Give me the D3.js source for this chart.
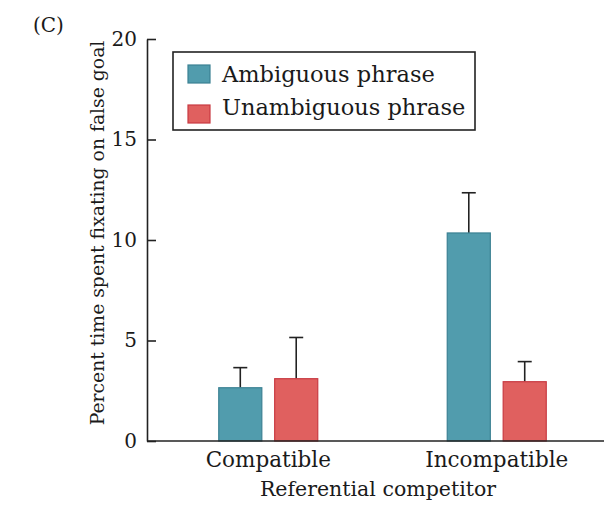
<!DOCTYPE html>
<html>
<head>
<meta charset="utf-8">
<script src="https://cdn.jsdelivr.net/npm/d3@7"></script>
<style>
  body { margin: 0; background: #fff; }
  text { font-family: "DejaVu Serif", serif; fill: #1a1a1a; }
</style>
</head>
<body>
<svg id="chart" width="604" height="505"></svg>
<script>
var categories = ['Compatible', 'Incompatible']
var seriesNames = ['Ambiguous phrase', 'Unambiguous phrase']
var ambiguous = [2.65, 10.35]
var unambiguous = [3.1, 2.95]
var ambiguousErr = [1.0, 2.0]
var unambiguousErr = [2.05, 1.0]
var yTicks = [0, 5, 10, 15, 20]

var fills = ['#519cad', '#e0605f']
var strokes = ['#3b8193', '#c83a42']

;(function (d3) {
  var svg = d3.select('#chart')
  var left = 147
  var bottom = 441
  var plotTop = 39

  var y = d3.scaleLinear().domain([0, 20]).range([bottom, plotTop])
  var x0 = d3.scaleBand().domain(categories).range([154, 611]).padding(0)
  var x1 = d3.scaleBand().domain(seriesNames).range([-49.5, 49.5]).paddingInner(0.23)

  var rows = []
  categories.forEach(function (c, i) {
    rows.push({ cat: c, s: 0, v: ambiguous[i], e: ambiguousErr[i] })
    rows.push({ cat: c, s: 1, v: unambiguous[i], e: unambiguousErr[i] })
  })

  function barX (d) {
    return x0(d.cat) + x0.bandwidth() / 2 + x1(seriesNames[d.s])
  }

  // error bars (drawn under bars)
  var eb = svg.append('g').attr('stroke', '#222').attr('stroke-width', 1.6)
  rows.forEach(function (d) {
    var cx = barX(d) + x1.bandwidth() / 2
    eb.append('line').attr('x1', cx).attr('x2', cx).attr('y1', y(d.v)).attr('y2', y(d.v + d.e))
    eb.append('line').attr('x1', cx - 7).attr('x2', cx + 7).attr('y1', y(d.v + d.e)).attr('y2', y(d.v + d.e))
  })

  svg.append('g').selectAll('rect').data(rows).join('rect')
    .attr('x', barX)
    .attr('y', function (d) { return y(d.v) })
    .attr('width', x1.bandwidth())
    .attr('height', function (d) { return y(0) - y(d.v) })
    .attr('fill', function (d) { return fills[d.s] })
    .attr('stroke', function (d) { return strokes[d.s] })
    .attr('stroke-width', 1.2)

  // y axis, ticks pointing inward
  var yAxis = svg.append('g').attr('transform', 'translate(' + left + ',0)')
    .call(d3.axisLeft(y).tickValues(yTicks).tickSize(-9).tickSizeOuter(0).tickPadding(10))
  yAxis.select('.domain').attr('stroke', '#222').attr('stroke-width', 1.6)
  yAxis.selectAll('.tick line').attr('stroke', '#222').attr('stroke-width', 1.6)
  yAxis.selectAll('.tick text').attr('font-size', 20).attr('font-family', '"DejaVu Serif", serif').attr('fill', '#1a1a1a')

  // x axis line
  svg.append('line').attr('x1', left).attr('x2', 604).attr('y1', bottom).attr('y2', bottom)
    .attr('stroke', '#222').attr('stroke-width', 1.6)

  svg.append('g').selectAll('text').data(categories).join('text')
    .attr('x', function (c) { return x0(c) + x0.bandwidth() / 2 })
    .attr('y', 467)
    .attr('text-anchor', 'middle')
    .attr('font-size', 21.5)
    .text(function (c) { return c })

  svg.append('text').attr('x', 378).attr('y', 496).attr('text-anchor', 'middle')
    .attr('font-size', 20.5).text('Referential competitor')

  svg.append('text').attr('transform', 'translate(104,233) rotate(-90)')
    .attr('text-anchor', 'middle').attr('font-size', 18.8)
    .text('Percent time spent fixating on false goal')

  svg.append('text').attr('x', 33).attr('y', 32).attr('font-size', 20).text('(C)')

  // legend
  var lg = svg.append('g')
  lg.append('rect').attr('x', 173).attr('y', 52).attr('width', 302).attr('height', 78)
    .attr('fill', '#fff').attr('stroke', '#222').attr('stroke-width', 1.6)
  seriesNames.forEach(function (n, i) {
    lg.append('rect').attr('x', 188).attr('y', 65 + i * 40).attr('width', 22).attr('height', 18)
      .attr('fill', fills[i]).attr('stroke', strokes[i]).attr('stroke-width', 1.2)
    lg.append('text').attr('x', 222).attr('y', 82 + i * 33).attr('font-size', 22.5).text(n)
  })
})(d3)
</script>
</body>
</html>
